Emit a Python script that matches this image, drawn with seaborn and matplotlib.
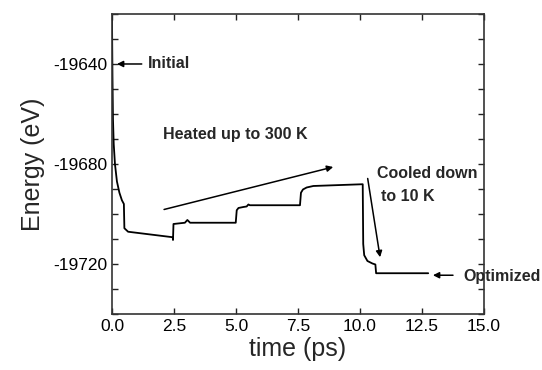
# MD energy trace: heating to 300 K, cooling to 10 K, then optimization
import pandas as pd
import numpy as np
import matplotlib.pyplot as plt
from matplotlib.ticker import MultipleLocator
import seaborn as sns

sns.set_style("ticks")
plt.rcParams['font.family'] = ['Liberation Sans', 'DejaVu Sans']
plt.rcParams['axes.unicode_minus'] = False

# Values
time_ps = [0.0, 0.02, 0.04, 0.07, 0.12, 0.20, 0.30, 0.40, 0.48, 0.50, 0.65,
           2.45, 2.46, 2.48, 2.94, 3.04, 3.15, 4.99,
           5.03, 5.10, 5.30, 5.43, 5.50, 5.56, 7.58,
           7.62, 7.70, 7.85, 8.12, 10.11,
           10.12, 10.13, 10.17, 10.30, 10.50, 10.62, 10.65, 12.75]
energy_ev = [-19621.0, -19645.0, -19662.0, -19672.0, -19680.0, -19687.0, -19691.5,
             -19694.5, -19696.0, -19705.7, -19707.1,
             -19709.3, -19710.4, -19704.0, -19703.5, -19702.4, -19703.5, -19703.5,
             -19698.5, -19697.6, -19697.2, -19697.0, -19696.2, -19696.5, -19696.5,
             -19691.5, -19690.2, -19689.4, -19688.8, -19688.1,
             -19700.0, -19712.0, -19716.5, -19718.8, -19719.8, -19720.2, -19723.7,
             -19723.7]
df = pd.DataFrame({'time': time_ps, 'energy': energy_ev})

fig = plt.figure(figsize=(5.42, 3.70), dpi=100)
ax = fig.add_axes([0.2066, 0.1514, 0.6864, 0.8108])
sns.lineplot(data=df, x='time', y='energy', color='black', lw=1.3, ax=ax)

ax.set_xlim(0, 15)
ax.set_ylim(-19740, -19620)
ax.xaxis.set_major_locator(MultipleLocator(2.5))
ax.yaxis.set_major_locator(MultipleLocator(40))
ax.yaxis.set_minor_locator(MultipleLocator(10))
ax.xaxis.set_major_formatter(plt.FormatStrFormatter('%.1f'))
ax.yaxis.set_major_formatter(plt.FormatStrFormatter('%d'))
ax.tick_params(which='both', direction='in', top=True, right=True,
               length=4, width=1, labelsize=12.5, colors='#222222', labelcolor='black')
for s in ax.spines.values():
    s.set_linewidth(1.2)
    s.set_color('#333333')

ax.set_xlabel('time (ps)', fontsize=18, labelpad=2)
ax.set_ylabel('Energy (eV)', fontsize=18, labelpad=6)

arrow = dict(arrowstyle='-|>', color='black', lw=1.1, mutation_scale=9,
             shrinkA=0, shrinkB=0)
font = dict(fontsize=11.5, fontweight='bold', va='center', ha='left')

ax.annotate('', xy=(0.2, -19640), xytext=(1.2, -19640), arrowprops=arrow)
ax.text(1.46, -19640, 'Initial', **font)

ax.text(2.04, -19668.2, 'Heated up to 300 K', **font)
ax.annotate('', xy=(8.92, -19681.2), xytext=(2.10, -19698.2), arrowprops=arrow)

ax.text(10.67, -19683.7, 'Cooled down', **font)
ax.text(10.83, -19693.1, 'to 10 K', **font)
ax.annotate('', xy=(10.81, -19717.3), xytext=(10.31, -19685.8), arrowprops=arrow)

ax.annotate('', xy=(12.94, -19724.5), xytext=(13.75, -19724.5), arrowprops=arrow)
ax.text(14.17, -19725.0, 'Optimized', clip_on=False, **font)

fig.savefig('out.png', dpi=100)
